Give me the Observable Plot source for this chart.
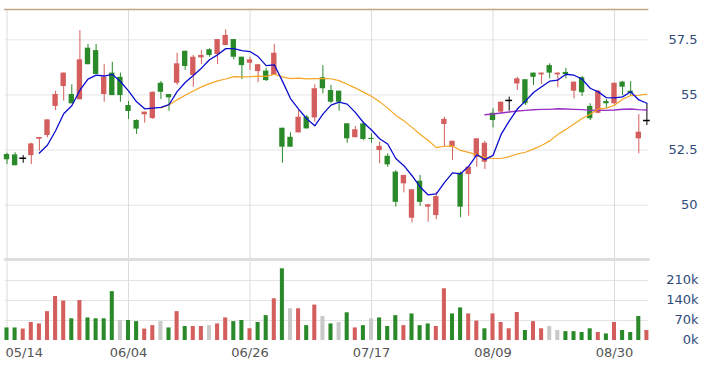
<!DOCTYPE html>
<html><head><meta charset="utf-8">
<script src="https://cdn.jsdelivr.net/npm/d3@7"></script>
<script src="https://cdn.jsdelivr.net/npm/@observablehq/plot@0.6"></script>
<style>
html,body{margin:0;padding:0;background:#fff;}
#chart{width:709px;height:368px;position:relative;overflow:hidden;}
#chart svg{display:block;}
</style></head><body><div id="chart"></div>
<script>
// ---- data ----
const opens  = [52.30,52.28,52.13,52.25,52.99,53.16,54.48,55.38,55.02,54.78,
                57.12,57.01,55.02,55.99,55.80,54.52,53.84,54.10,53.93,55.53,
                55.02,55.53,56.98,55.88,56.68,57.05,56.83,57.24,57.51,56.71,
                56.44,56.06,56.08,55.88,53.49,53.08,53.28,53.99,53.96,55.78,
                55.20,55.17,53.69,53.06,53.69,53.03,52.48,52.22,51.50,50.97,
                49.41,51.09,49.91,49.53,53.66,52.63,51.45,51.39,52.18,51.95,
                54.17,54.22,54.75,55.50,55.69,55.99,55.91,56.33,55.91,56.02,
                55.17,55.78,54.48,54.17,54.70,54.60,55.58,55.17,53.01,53.84];
const highs  = [52.36,52.38,52.25,52.81,53.07,53.87,55.17,55.99,55.46,57.92,
                57.29,57.29,56.37,56.48,55.99,54.70,53.87,54.22,55.14,55.61,
                55.02,56.89,56.98,56.79,57.01,57.09,57.51,57.95,57.51,56.71,
                56.71,56.37,56.21,57.29,53.49,53.28,54.29,54.07,55.46,56.33,
                55.43,55.17,53.69,53.57,53.76,53.24,52.86,52.33,51.57,51.35,
                50.70,51.35,50.02,50.59,53.99,52.90,51.50,51.72,53.01,52.90,
                54.37,54.67,54.90,55.80,55.69,55.99,55.99,56.41,55.99,56.21,
                55.58,55.84,54.60,55.20,54.79,55.53,55.61,55.61,54.11,54.60];
const lows   = [51.84,51.79,51.90,51.84,52.45,53.06,54.29,54.72,54.60,54.78,
                56.37,55.93,54.67,54.97,54.67,53.89,53.21,53.72,53.89,54.79,
                54.26,55.43,56.11,55.35,56.37,56.71,56.38,57.24,56.59,55.69,
                56.11,55.55,55.61,55.88,51.90,52.63,53.28,53.46,53.76,55.05,
                54.60,54.26,52.81,53.06,52.93,52.81,51.88,51.72,49.91,50.56,
                49.20,49.95,49.23,49.34,52.63,52.03,49.43,49.50,51.72,51.62,
                53.51,54.14,54.26,55.20,54.52,55.43,55.47,55.73,55.32,55.73,
                54.82,54.93,53.84,54.14,54.40,54.52,54.97,54.97,52.33,53.61];
const closes = [52.06,51.79,52.13,52.78,53.07,53.87,55.02,55.99,54.60,56.59,
                56.37,55.93,55.80,54.97,54.97,54.25,53.45,54.22,55.12,55.12,
                54.87,56.41,56.29,56.71,56.79,56.79,57.51,57.70,56.71,56.33,
                56.59,56.37,55.65,56.89,52.63,52.63,53.99,53.46,55.28,55.28,
                54.67,54.67,53.01,53.42,52.98,52.98,52.67,51.83,50.13,51.35,
                50.70,50.13,50.02,50.39,53.89,52.90,49.91,51.72,53.01,52.81,
                53.84,54.67,54.75,55.73,54.60,55.80,55.99,55.99,55.99,55.92,
                55.58,55.10,53.92,55.17,54.60,55.53,55.35,55.08,53.31,53.84];
// volume in thousands
const volumes = [44,44,40,63,58,101,154,138,76,140,
                 79,76,76,171,70,70,66,40,52,66,
                 44,101,49,49,49,52,58,79,66,70,
                 41,63,87,146,251,111,111,52,124,84,
                 58,63,97,44,52,76,79,49,87,52,
                 93,52,58,49,181,93,114,93,68,41,
                 93,63,41,98,35,66,41,49,35,31,
                 31,28,41,28,23,63,35,28,84,35];
const tickIndex  = [0, 15, 30, 45, 60, 75];
const tickLabels = ["05/14", "06/04", "06/26", "07/17", "08/09", "08/30"];
const priceTicks = [50, 52.5, 55, 57.5];
const volumeTicks = [0, 70, 140, 210];

// ---- table ----
const bars = closes.map((c, i) => {
  const o = opens[i];
  const ref = i ? closes[i - 1] : o;
  return {
    i, open: o, high: highs[i], low: lows[i], close: c, volume: volumes[i] * 1000,
    dir: c > o ? "up" : c < o ? "down" : "flat",
    vdir: c > ref ? "up" : c < ref ? "down" : "flat"
  };
});
const RED = "#d45d5d", GREEN = "#2a8a2a";
const candleColor = d => d.dir === "up" ? RED : d.dir === "down" ? GREEN : "#000";
const volColor = d => d.vdir === "up" ? RED : d.vdir === "down" ? GREEN : "#c9c9c9";

const W = 709, ML = 6.5, MR = 62.6;
const xA = -0.2, xB = 79.2;
const yTop = 58.874, yBot = 47.946;
const font = {fontFamily: "DejaVu Sans", fontSize: "13px", background: "#fff", overflow: "visible"};
const labelColor = "#2f4b7c";

const price = Plot.plot({
  width: W, height: 257, marginTop: 9, marginBottom: 7, marginLeft: ML, marginRight: MR,
  x: {type: "linear", domain: [0, 79], axis: null},
  y: {domain: [yBot, yTop], axis: null},
  color: {type: "identity"},
  style: font,
  marks: [
    Plot.ruleY(priceTicks, {x1: xA, x2: xB, stroke: "#e4e4e4"}),
    Plot.ruleX(tickIndex, {y1: yTop, y2: yBot - 8 / 22.05, stroke: "#dcdcdc"}),
    Plot.ruleY([yTop], {x1: xA - 0.1, x2: xB + 0.05, stroke: "#bba983", strokeWidth: 1.5}),
    Plot.ruleX(bars, {x: "i", y1: "low", y2: "high", stroke: candleColor, strokeWidth: 1}),
    Plot.rect(bars, {x1: d => d.i - 0.33, x2: d => d.i + 0.33, y1: "open", y2: "close", fill: candleColor}),
    Plot.ruleY(bars.filter(d => d.dir === "flat"), {x1: d => d.i - 0.42, x2: d => d.i + 0.42, y: "close", stroke: "#000", strokeWidth: 1.5}),
    Plot.lineY(bars, Plot.windowY({k: 60, anchor: "end", strict: true}, {x: "i", y: "close", stroke: "#9b32c8", strokeWidth: 1.4})),
    Plot.lineY(bars, Plot.windowY({k: 20, anchor: "end", strict: true}, {x: "i", y: "close", stroke: "#f5a623", strokeWidth: 1.2})),
    Plot.lineY(bars, Plot.windowY({k: 5, anchor: "end", strict: true}, {x: "i", y: "close", stroke: "#0c0cd0", strokeWidth: 1.3})),
    Plot.text(priceTicks, {x: 79, y: d => d, text: d => String(d), textAnchor: "end", dx: 697 - 646.4, fill: labelColor})
  ]
});

const vMax = 283500;
const vol = Plot.plot({
  width: W, height: 111, marginTop: 2, marginBottom: 28, marginLeft: ML, marginRight: MR,
  x: {type: "linear", domain: [0, 79], axis: null},
  y: {domain: [0, vMax], axis: null},
  color: {type: "identity"},
  style: font,
  marks: [
    Plot.ruleY(volumeTicks.slice(1).map(v => v * 1000), {x1: xA, x2: xB, stroke: "#e4e4e4"}),
    Plot.ruleX(tickIndex, {y1: 0, y2: vMax + 7000, stroke: "#dcdcdc"}),
    Plot.ruleY([vMax], {x1: xA - 0.1, x2: xB + 0.2, stroke: "#dedede", strokeWidth: 3}),
    Plot.rect(bars, {x1: d => d.i - 0.25, x2: d => d.i + 0.25, y1: 0, y2: "volume", fill: volColor}),
    Plot.text(volumeTicks, {x: 79, y: d => d * 1000, text: d => d + "k", textAnchor: "end", dx: 698 - 646.4, dy: -1, fill: labelColor}),
    Plot.text([0], {x: d => d, y: 0, text: () => tickLabels[0], textAnchor: "start", dx: -1.5, dy: 12, fill: "#555", ariaLabel: "xlabels"}),
    Plot.text(tickIndex.slice(1), {x: d => d, y: 0, text: (d, k) => tickLabels[k + 1], textAnchor: "middle", dy: 12, fill: "#555", ariaLabel: "xlabels"})
  ]
});

const root = document.getElementById("chart");
root.appendChild(price);
root.appendChild(vol);
d3.select(vol).selectAll('g[aria-label="xlabels"] text').style("letter-spacing", "1px");
</script></body></html>
